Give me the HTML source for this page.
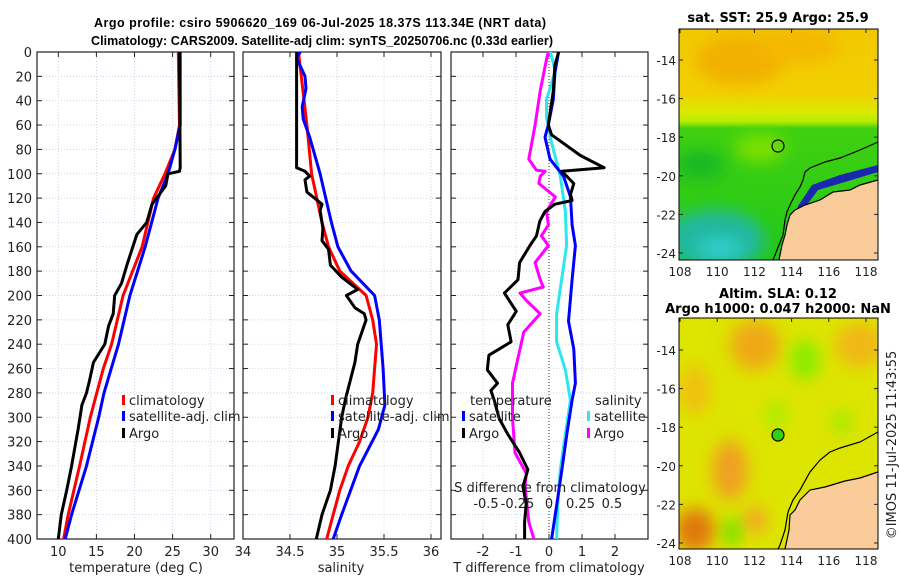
<!DOCTYPE html>
<html><head><meta charset="utf-8"><style>
body{margin:0;background:#fff;}
svg{display:block;font-family:"DejaVu Sans","Liberation Sans",sans-serif;}
</style></head><body>
<svg id="c" width="900" height="580" viewBox="0 0 900 580" xmlns="http://www.w3.org/2000/svg">
<defs>
<filter id="bl" x="-50%" y="-50%" width="200%" height="200%"><feGaussianBlur stdDeviation="8"/></filter>
<clipPath id="m1"><rect x="679" y="29" width="199" height="231"/></clipPath>
<clipPath id="m2"><rect x="679" y="318" width="199" height="231"/></clipPath>
<linearGradient id="sstg" x1="0" y1="0" x2="0" y2="1">
<stop offset="0" stop-color="#f2c800"/><stop offset="0.28" stop-color="#f2d000"/><stop offset="0.36" stop-color="#d8ea00"/><stop offset="0.40" stop-color="#b8ec00"/><stop offset="0.43" stop-color="#40d010"/><stop offset="1" stop-color="#22c818"/>
</linearGradient>
</defs>
<text x="320" y="27" font-size="12.5" font-weight="bold" text-anchor="middle" textLength="452" font-family="Liberation Sans, sans-serif">Argo profile: csiro 5906620_169 06-Jul-2025 18.37S 113.34E (NRT data)</text>
<text x="322" y="45" font-size="12.5" font-weight="bold" text-anchor="middle" textLength="462" font-family="Liberation Sans, sans-serif">Climatology: CARS2009. Satellite-adj clim: synTS_20250706.nc (0.33d earlier)</text>

<!-- map 1 -->
<g clip-path="url(#m1)">
<rect x="679" y="29" width="199" height="231" fill="url(#sstg)"/>
<ellipse cx="740" cy="60" rx="45" ry="25" fill="#f2b000" filter="url(#bl)"/>
<ellipse cx="800" cy="45" rx="40" ry="18" fill="#f4b800" filter="url(#bl)"/>
<ellipse cx="760" cy="148" rx="25" ry="14" fill="#7ee000" filter="url(#bl)"/>
<ellipse cx="700" cy="165" rx="25" ry="14" fill="#18b828" filter="url(#bl)"/>
<ellipse cx="715" cy="240" rx="50" ry="30" fill="#20b8a0" filter="url(#bl)"/>
<ellipse cx="720" cy="248" rx="22" ry="10" fill="#30d0d0" filter="url(#bl)"/>
<polygon points="878,172 845,182 818,190 803,210 797,228 793,226 798,206 812,185 840,175 878,165" fill="#1a28b0"/>
<polygon points="878,180 860,185 850,190 833,192 820,200 805,205 795,210 790,215 787,225 785,235 782,245 779,260 878,260" fill="#f9cc9a"/>
<polyline points="878,142 860,150 840,158 825,162 810,168 805,172 803,180 800,187 795,195 790,205 787,212 785,220 783,235 779,245 773,260" fill="none" stroke="#000" stroke-width="1.2"/>
<polyline points="878,180 860,185 850,190 833,192 820,200 805,205 795,210 790,215 787,225 785,235 782,245 779,260" fill="none" stroke="#000" stroke-width="1.2"/>
<circle cx="778" cy="146" r="6" fill="none" stroke="#000" stroke-width="1.2"/>
</g>
<rect x="679" y="29" width="199" height="231" fill="none" stroke="#000" stroke-width="1"/>
<text x="778" y="22" font-size="13" font-weight="bold" text-anchor="middle">sat. SST: 25.9 Argo: 25.9</text>

<!-- map 2 -->
<g clip-path="url(#m2)">
<rect x="679" y="318" width="199" height="231" fill="#dde400"/>
<ellipse cx="755" cy="345" rx="25" ry="25" fill="#f0a818" filter="url(#bl)"/>
<ellipse cx="860" cy="345" rx="25" ry="22" fill="#f0b818" filter="url(#bl)"/>
<ellipse cx="730" cy="470" rx="18" ry="30" fill="#f0a020" filter="url(#bl)"/>
<ellipse cx="695" cy="390" rx="15" ry="25" fill="#f0c010" filter="url(#bl)"/>
<ellipse cx="695" cy="530" rx="20" ry="22" fill="#e07810" filter="url(#bl)"/>
<ellipse cx="755" cy="520" rx="12" ry="14" fill="#f0a820" filter="url(#bl)"/>
<ellipse cx="805" cy="360" rx="15" ry="20" fill="#88ec00" filter="url(#bl)"/>
<ellipse cx="776" cy="415" rx="10" ry="15" fill="#a8ec00" filter="url(#bl)"/>
<ellipse cx="842" cy="422" rx="10" ry="12" fill="#a0ec00" filter="url(#bl)"/>
<ellipse cx="732" cy="532" rx="8" ry="14" fill="#60e000" filter="url(#bl)"/>
<polygon points="878,472 860,478 845,481 825,487 810,490 800,500 795,510 790,515 789,530 785,549 878,549" fill="#f9cc9a"/>
<polyline points="878,432 860,442 840,448 830,452 820,460 810,472 800,490 793,500 788,512 785,530 780,545 778,549" fill="none" stroke="#000" stroke-width="1.2"/>
<polyline points="878,472 860,478 845,481 825,487 810,490 800,500 795,510 790,515 789,530 785,549" fill="none" stroke="#000" stroke-width="1.2"/>
<circle cx="778" cy="435" r="6" fill="#30d010" stroke="#000" stroke-width="1.2"/>
</g>
<rect x="679" y="318" width="199" height="231" fill="none" stroke="#000" stroke-width="1"/>
<text x="778" y="298" font-size="13" font-weight="bold" text-anchor="middle">Altim. SLA: 0.12</text>
<text x="778" y="313" font-size="13" font-weight="bold" text-anchor="middle">Argo h1000: 0.047 h2000: NaN</text>
<text transform="translate(896,445) rotate(-90)" font-size="13" text-anchor="middle" fill="#222">©IMOS 11-Jul-2025 11:43:55</text>
<g id="plots"></g>
</svg>
<script>
// ---------- data ----------
const depthTicks = [0,20,40,60,80,100,120,140,160,180,200,220,240,260,280,300,320,340,360,380,400];
const tempTicks = [10,15,20,25,30];
const salTicks = [34,34.5,35,35.5,36];
const tdiffTicks = [-2,-1,0,1,2];
const sdiffTicks = [-0.5,-0.25,0,0.25,0.5];
const latTicks = [-14,-16,-18,-20,-22,-24];
const lonTicks = [108,110,112,114,116,118];

const climTDepth = [0,60,80,100,120,160,200,240,260,300,340,380,400];
const climT = [25.75,25.9,25.3,24.0,22.5,21.0,18.5,17.0,15.9,14.2,12.8,11.3,10.7];
const satTDepth = [0,60,80,100,120,160,200,240,280,300,340,380,400];
const satT = [26.0,26.0,25.3,24.4,23.1,21.4,19.4,17.9,16.0,15.3,13.7,11.75,10.9];
const argoTDepth = [0,95,98,100,110,125,140,150,175,190,200,215,225,240,255,270,280,290,310,340,360,380,400];
const argoT = [25.9,26.0,25.9,24.4,24.1,22.3,21.6,20.3,19.0,18.3,17.4,17.2,16.6,16.1,14.6,14.1,13.7,13.1,12.6,11.75,11.1,10.4,10.0];

const climSDepth = [0,20,60,100,140,160,180,200,220,240,280,300,320,340,360,380,400];
const climS = [34.59,34.62,34.68,34.73,34.84,34.91,35.03,35.31,35.38,35.42,35.38,35.33,35.24,35.12,35.03,34.96,34.89];
const satSDepth = [0,5,20,30,45,55,70,100,140,160,180,200,220,260,290,310,340,380,400];
const satS = [34.61,34.57,34.66,34.67,34.63,34.64,34.71,34.82,34.94,35.01,35.15,35.40,35.45,35.49,35.51,35.44,35.24,35.05,34.96];
const argoSDepth = [0,95,98,102,105,115,125,130,145,155,162,175,185,195,200,210,215,220,240,255,270,285,300,340,360,380,400];
const argoS = [34.57,34.57,34.66,34.71,34.66,34.68,34.84,34.82,34.85,34.84,34.91,34.93,35.05,35.22,35.10,35.19,35.29,35.31,35.22,35.19,35.14,35.09,35.05,34.98,34.93,34.84,34.78];

const dDepth = [0,17,39,60,70,88,102,119,142,159,187,221,244,272,286,314,343,371,400];
const satTDiff = [0.29,0.18,0.13,-0.02,-0.12,0.03,0.44,0.65,0.70,0.80,0.70,0.59,0.75,0.80,0.70,0.54,0.39,0.24,0.08];
const argoTDiffDepth = [0,11,32,60,68,85,95,98,108,117,122,125,131,139,151,159,173,187,198,213,224,238,249,261,272,278,286,301,314,329,343,357,371,386,400];
const argoTDiff = [0.29,0.18,0.13,-0.02,0.08,0.95,1.67,0.39,0.75,0.65,0.70,0.18,-0.12,-0.28,-0.38,-0.58,-0.89,-0.94,-1.35,-0.99,-1.25,-1.15,-1.82,-1.87,-1.56,-1.76,-1.66,-1.51,-1.25,-0.89,-0.64,-0.79,-0.69,-0.74,-0.74];
const argoSDiffDepth = [0,6,32,60,88,97,98,102,108,119,131,142,151,159,173,187,193,198,204,215,230,244,258,272,301,329,346,357,386,400];
const argoSDiff = [-0.005,-0.02,-0.07,-0.11,-0.16,-0.10,-0.03,-0.07,-0.08,0.05,-0.02,-0.005,-0.06,-0.005,-0.11,-0.07,-0.045,-0.23,-0.18,-0.07,-0.20,-0.23,-0.26,-0.29,-0.29,-0.27,-0.18,-0.19,-0.16,-0.12];
const satSDiffDepth = [0,15,26,39,54,74,102,131,159,187,215,238,261,286,314,343,371,400];
const satSDiff = [0.01,0.05,0.02,-0.02,-0.02,0.02,0.09,0.13,0.14,0.10,0.06,0.06,0.13,0.17,0.13,0.09,0.07,0.06];

// ---------- axes ----------
const Y0 = 52, Y1 = 539;
const yD = d => Y0 + (d/400)*(Y1-Y0);
const P1 = {x0:37,x1:234}, P2 = {x0:243,x1:441}, P3 = {x0:451,x1:648};
const xT = t => 58.3 + (t-10)*7.62;
const xS = s => 243 + (s-34)*94;
const xTd = t => 549 + t*33;
const xSd = s => 549 + s*126;
const yLat1 = l => 60 + (-14-l)*19.3;
const yLat2 = l => 350 + (-14-l)*19.3;
const xLon = l => 680 + (l-108)*18.6;

const NS = "http://www.w3.org/2000/svg";
const g = document.getElementById('plots');
function mk(tag, attrs, parent){
  const e = document.createElementNS(NS, tag);
  for (const k in attrs) e.setAttribute(k, attrs[k]);
  (parent||g).appendChild(e); return e;
}
function txt(x,y,s,anchor,size,parent){
  const t = mk('text',{x:x,y:y,'font-size':size||13,'text-anchor':anchor||'middle',fill:'#222'},parent);
  t.textContent = s; return t;
}

function panel(P, name, ticks, xf, label){
  const pg = mk('g',{});
  
  
  depthTicks.forEach(d=>{
    mk('line',{x1:P.x0,x2:P.x1,y1:yD(d),y2:yD(d),stroke:'#b8c4e0','stroke-width':0.7,'stroke-dasharray':'1,2'},pg);
    mk('line',{x1:P.x0,x2:P.x0+5,y1:yD(d),y2:yD(d),stroke:'#222'},pg);
    mk('line',{x1:P.x1-5,x2:P.x1,y1:yD(d),y2:yD(d),stroke:'#222'},pg);
  });
  ticks.forEach(v=>{
    const x = xf(v);
    mk('line',{x1:x,x2:x,y1:Y0,y2:Y1,stroke:'#b8c4e0','stroke-width':0.7,'stroke-dasharray':'1,2'},pg);
    mk('line',{x1:x,x2:x,y1:Y1,y2:Y1-5,stroke:'#222'},pg);
    mk('line',{x1:x,x2:x,y1:Y0,y2:Y0+5,stroke:'#222'},pg);
    if (label) { const t = txt(x,Y1+17,String(v),'middle',13,pg);   }
  });
  mk('rect',{x:P.x0,y:Y0,width:P.x1-P.x0,height:Y1-Y0,fill:'none',stroke:'#222','stroke-width':1.2},pg);
  return pg;
}
function line(pg, depths, vals, xf, color, name){
  const pts = depths.map((d,i)=> xf(vals[i]).toFixed(1)+','+yD(d).toFixed(1)).join(' ');
  const l = mk('polyline',{points:pts,fill:'none',stroke:color,'stroke-width':3,'stroke-linejoin':'round'},pg);
  
  
}
function legend(pg, x, y, color, label, name){
  const lg = mk('g',{},pg);
  
  
  mk('rect',{x:x,y:y-10,width:3,height:10,fill:color},lg);
  txt(x+7,y,label,'start',13,lg);
}

// panel 1
const p1 = panel(P1,'temperature-panel',tempTicks,xT,true);
depthTicks.forEach(d=>{ const t = txt(32,yD(d)+5,String(d),'end',13,p1);   });
line(p1, climTDepth, climT, xT, '#f00', 'climatology-temperature-line');
line(p1, satTDepth, satT, xT, '#00f', 'satellite-temperature-line');
line(p1, argoTDepth, argoT, xT, '#000', 'argo-temperature-line');
legend(p1,122,405,'#f00','climatology','legend-climatology');
legend(p1,122,421,'#00f','satellite-adj. clim','legend-satellite');
legend(p1,122,438,'#000','Argo','legend-argo');
txt(136,572,'temperature (deg C)','middle',13,p1);

// panel 2
const p2 = panel(P2,'salinity-panel',salTicks,xS,true);
line(p2, climSDepth, climS, xS, '#f00', 'climatology-salinity-line');
line(p2, satSDepth, satS, xS, '#00f', 'satellite-salinity-line');
line(p2, argoSDepth, argoS, xS, '#000', 'argo-salinity-line');
legend(p2,331,405,'#f00','climatology','legend-climatology');
legend(p2,331,421,'#00f','satellite-adj. clim','legend-satellite');
legend(p2,331,438,'#000','Argo','legend-argo');
txt(341,572,'salinity','middle',13,p2);

// panel 3
const p3 = panel(P3,'difference-panel',tdiffTicks,xTd,true);
mk('line',{x1:xTd(0),x2:xTd(0),y1:Y0,y2:Y1,stroke:'#333','stroke-width':1,'stroke-dasharray':'1,2'},p3);
line(p3, argoSDiffDepth, argoSDiff, xSd, '#f0f', 'argo-salinity-diff-line');
line(p3, satSDiffDepth, satSDiff, xSd, '#2ee6f0', 'satellite-salinity-diff-line');
line(p3, dDepth, satTDiff, xTd, '#00f', 'satellite-temperature-diff-line');
line(p3, argoTDiffDepth, argoTDiff, xTd, '#000', 'argo-temperature-diff-line');
txt(470,405,'temperature','start',13,p3);
legend(p3,462,421,'#00f','satellite','legend-t-satellite');
legend(p3,462,438,'#000','Argo','legend-t-argo');
txt(595,405,'salinity','start',13,p3);
legend(p3,587,421,'#2ee6f0','satellite','legend-s-satellite');
legend(p3,587,438,'#f0f','Argo','legend-s-argo');
txt(550,492,'S difference from climatology','middle',13,p3);
sdiffTicks.forEach(v=>{ const t = txt(xSd(v),508,String(v),'middle',13,p3);   });
txt(549,572,'T difference from climatology','middle',13,p3);

// map ticks
const mt = mk('g',{});


latTicks.forEach(l=>{
  [yLat1(l), yLat2(l)].forEach(y=>{
    txt(676,y+5,String(l),'end',12,mt);
    mk('line',{x1:679,x2:683,y1:y,y2:y,stroke:'#222'},mt);
    mk('line',{x1:874,x2:878,y1:y,y2:y,stroke:'#222'},mt);
  });
});
lonTicks.forEach(l=>{
  const x = xLon(l);
  txt(x,276,String(l),'middle',12,mt);
  txt(x,565,String(l),'middle',12,mt);
  mk('line',{x1:x,x2:x,y1:29,y2:33,stroke:'#222'},mt);
  mk('line',{x1:x,x2:x,y1:318,y2:322,stroke:'#222'},mt);
});
</script>
</body></html>
